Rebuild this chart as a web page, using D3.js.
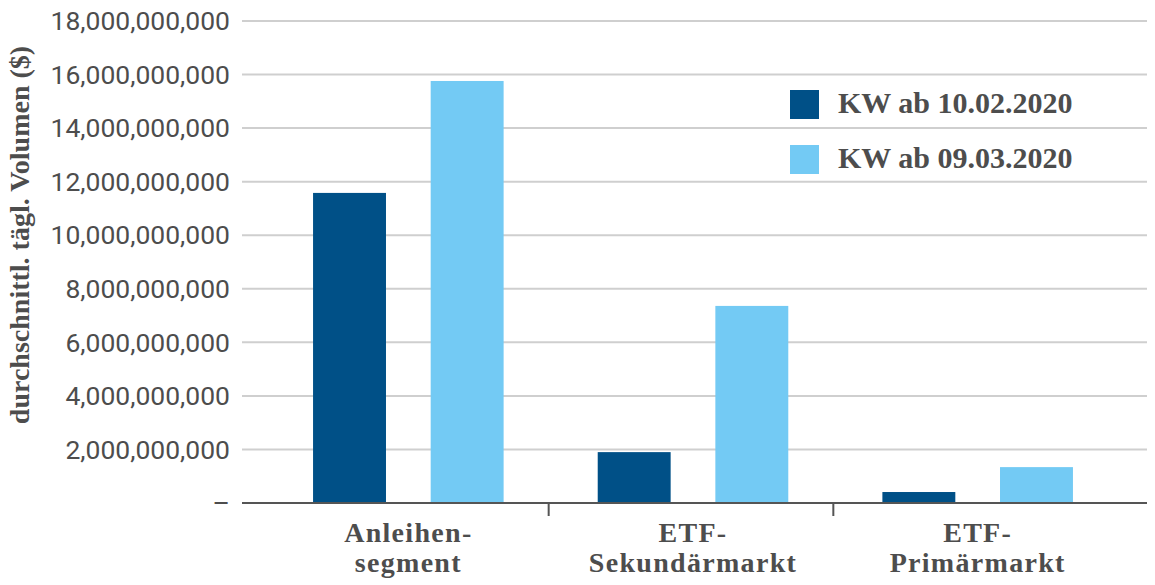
<!DOCTYPE html>
<html>
<head>
<meta charset="utf-8">
<script src="https://cdn.jsdelivr.net/npm/d3@7"></script>
<style>
  body { margin: 0; background: #fff; }
  svg text { fill: #4d4d4d; }
</style>
</head>
<body>
<div id="chart"></div>
<script>
// data
var categories = [["Anleihen-", "segment"], ["ETF-", "Sekundärmarkt"], ["ETF-", "Primärmarkt"]];
var seriesNames = ["KW ab 10.02.2020", "KW ab 09.03.2020"];
var week0210 = [11580000000, 1900000000, 410000000];
var week0309 = [15760000000, 7360000000, 1340000000];
var yTicks = [0, 2e9, 4e9, 6e9, 8e9, 10e9, 12e9, 14e9, 16e9, 18e9];
var colors = ["#005087", "#73caf4"];

var width = 1155, height = 585;
var plotLeft = 242, plotRight = 1147;

var svg = d3.select("#chart").append("svg")
    .attr("width", width)
    .attr("height", height);

var y = d3.scaleLinear()
    .domain([0, 18e9])
    .range([503, 21]);

var x0 = d3.scaleBand()
    .domain(d3.range(categories.length))
    .range([266, 1120]);

var x1 = d3.scaleBand()
    .domain([0, 1])
    .range([0, x0.bandwidth()])
    .paddingInner(0.38)
    .paddingOuter(0.4);

// gridlines
svg.append("g")
  .selectAll("line")
  .data(yTicks.filter(function(d){ return d > 0; }))
  .enter().append("line")
    .attr("x1", plotLeft)
    .attr("x2", plotRight)
    .attr("y1", function(d){ return y(d); })
    .attr("y2", function(d){ return y(d); })
    .attr("stroke", "#cfcfcf")
    .attr("stroke-width", 2);

// y tick labels
var fmt = d3.format(",");
svg.append("g")
  .selectAll("text")
  .data(yTicks)
  .enter().append("text")
    .attr("x", 230)
    .attr("y", function(d){ return y(d); })
    .attr("dy", "0.35em")
    .attr("text-anchor", "end")
    .style("font-family", "Roboto, sans-serif")
    .style("font-size", "26.5px")
    .text(function(d){ return d === 0 ? "–" : fmt(d); });

// bars
var groups = svg.append("g")
  .selectAll("g")
  .data(categories.map(function(c, i){ return [week0210[i], week0309[i]]; }))
  .enter().append("g")
    .attr("transform", function(d, i){ return "translate(" + x0(i) + ",0)"; });

groups.selectAll("rect")
  .data(function(d){ return d; })
  .enter().append("rect")
    .attr("x", function(d, j){ return x1(j); })
    .attr("width", x1.bandwidth())
    .attr("y", function(d){ return y(d); })
    .attr("height", function(d){ return y(0) - y(d); })
    .attr("fill", function(d, j){ return colors[j]; });

// x axis line and ticks between categories
svg.append("line")
    .attr("x1", plotLeft)
    .attr("x2", plotRight)
    .attr("y1", y(0))
    .attr("y2", y(0))
    .attr("stroke", "#555")
    .attr("stroke-width", 2);

svg.append("g")
  .selectAll("line")
  .data(d3.range(1, categories.length))
  .enter().append("line")
    .attr("x1", function(i){ return x0(i) - 2; })
    .attr("x2", function(i){ return x0(i) - 2; })
    .attr("y1", y(0))
    .attr("y2", y(0) + 13)
    .attr("stroke", "#555")
    .attr("stroke-width", 2);

// category labels (two lines each)
var catLabels = svg.append("g")
  .selectAll("text")
  .data(categories)
  .enter().append("text")
    .attr("x", function(d, i){ return x0(i) + x0.bandwidth() / 2; })
    .attr("y", 542)
    .attr("text-anchor", "middle")
    .style("font-family", "'Liberation Serif', serif")
    .style("font-weight", "bold")
    .style("font-size", "28px")
    .style("letter-spacing", "1.3px");

catLabels.selectAll("tspan")
  .data(function(d){ return d; })
  .enter().append("tspan")
    .attr("x", function(){ return d3.select(this.parentNode).attr("x"); })
    .attr("dy", function(d, k){ return k === 0 ? 0 : 30; })
    .text(function(d){ return d; });

// y axis title
svg.append("text")
    .attr("transform", "translate(29," + 235 + ") rotate(-90)")
    .attr("text-anchor", "middle")
    .style("font-family", "'Liberation Serif', serif")
    .style("font-weight", "bold")
    .style("font-size", "28px")
    .text("durchschnittl. tägl. Volumen ($)");

// legend
var legend = svg.append("g")
  .selectAll("g")
  .data(seriesNames)
  .enter().append("g")
    .attr("transform", function(d, i){ return "translate(790," + (90 + i * 55) + ")"; });

legend.append("rect")
    .attr("width", 29)
    .attr("height", 29)
    .attr("fill", function(d, i){ return colors[i]; });

legend.append("text")
    .attr("x", 48)
    .attr("y", 23)
    .style("font-family", "'Liberation Serif', serif")
    .style("font-weight", "bold")
    .style("font-size", "30px")
    .text(function(d){ return d; });
</script>
</body>
</html>
